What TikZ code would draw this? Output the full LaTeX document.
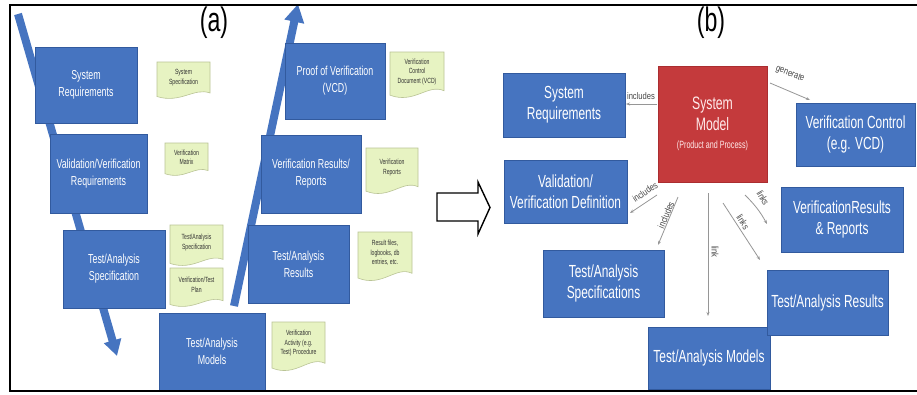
\documentclass[tikz,border=0pt]{standalone}
\usepackage{fontspec}
\setmainfont{Liberation Sans}
\newfontfamily\cond[FakeStretch=0.68]{Liberation Sans}
\newfontfamily\condlbl[FakeStretch=0.8]{Liberation Sans}
\usetikzlibrary{arrows.meta}

\definecolor{boxblue}{RGB}{70,116,192}
\definecolor{boxedge}{RGB}{50,90,158}
\definecolor{modelred}{RGB}{196,58,60}
\definecolor{modeledge}{RGB}{170,45,48}
\definecolor{notefill}{RGB}{231,243,194}
\definecolor{noteedge}{RGB}{186,196,150}
\definecolor{linkgray}{RGB}{150,150,150}
\definecolor{labelgray}{RGB}{70,70,70}

\tikzset{
  bluebox/.style={rectangle, fill=boxblue, draw=boxedge, line width=0.8pt,
    text=white, align=center, inner sep=0pt},
  smallbox/.style={bluebox, font=\cond\fontsize{13}{17}\selectfont},
  bigbox/.style={bluebox, font=\cond\fontsize{17.5}{21}\selectfont},
  modelbox/.style={rectangle, fill=modelred, draw=modeledge, line width=0.8pt,
    text=white!92!red, align=center, inner sep=0pt,
    font=\cond\fontsize{18}{21}\selectfont},
  notebg/.style={fill=notefill, draw=noteedge, line width=0.6pt},
  notetext/.style={align=center, inner sep=0pt, text=black!80,
    font=\cond\fontsize{7.5}{9.5}\selectfont},
  vstroke/.style={draw=boxblue, line width=8pt},
  linkline/.style={draw=linkgray, line width=0.8pt, -{Stealth[length=4pt,width=3pt]}},
  linklabel/.style={inner sep=0pt, text=labelgray, font=\condlbl\fontsize{9.5}{9.5}\selectfont},
  panellabel/.style={anchor=base, inner sep=0pt, font=\cond\fontsize{34}{34}\selectfont}
}

% sticky note with a wavy lower edge: name, centre x, centre y, width, height, text
\newcommand\docnote[6]{%
  \path[notebg] (#2-#4/2,#3-#5/2) -- ++(#4,0) -- ++(0,#5*0.86)
    .. controls +(-#4*0.3,-#5*0.16) and +(#4*0.45,#5*0.2) .. (#2-#4/2,#3+#5/2-#5*0.04) -- cycle;
  \node[notetext] (#1) at (#2,#3-#5*0.06) {#6};
}

\begin{document}
\begin{tikzpicture}[x=1pt,y=-1pt]
\useasboundingbox (0,0) rectangle (917,394);
\fill[white] (0,0) rectangle (917,394);

% ---------------- (a) V-model ----------------
\coordinate (vstart) at (18,14);
\coordinate (vend) at (117,356);
\coordinate (ustart) at (234,306);
\coordinate (uend) at (298,4);
\draw[vstroke, -{Triangle[width=17pt,length=16pt]}] (vstart) -- (vend);
\draw[vstroke, -{Triangle[width=19pt,length=18pt]}] (ustart) -- (uend);

\node[smallbox, minimum width=102pt, minimum height=76pt] (aSR)  at (86,85)      {System\\Requirements};
\node[smallbox, minimum width=97pt,  minimum height=79pt] (aVVR) at (98.5,173.5) {Validation/Verification\\Requirements};
\node[smallbox, minimum width=102pt, minimum height=78pt] (aTAS) at (114,269)    {Test/Analysis\\Specification};
\node[smallbox, minimum width=106pt, minimum height=77pt] (aTAM) at (212,351.5)  {Test/Analysis\\Models};
\node[smallbox, minimum width=101pt, minimum height=78pt] (aTAR) at (298.5,264)  {Test/Analysis\\Results};
\node[smallbox, minimum width=100pt, minimum height=78pt] (aVRR) at (311,174)    {Verification Results/\\Reports};
\node[smallbox, minimum width=100pt, minimum height=76pt] (aPOV) at (335,81)     {Proof of Verification\\(VCD)};

\docnote{nSS}{183.5}{80}{53}{36}{System\\Specification}
\docnote{nVM}{186.5}{159}{43}{32}{Verification\\Matrix}
\docnote{nTAS}{196.5}{245}{53}{40}{Test/Analysis\\Specification}
\docnote{nVTP}{196.5}{287}{53}{38}{Verification/Test\\Plan}
\docnote{nVAP}{298.5}{346}{53}{48}{Verification\\Activity (e.g.\\Test) Procedure}
\docnote{nRF}{385}{256}{54}{48}{Result files,\\logbooks, db\\entries, etc.}
\docnote{nVR}{392}{170.5}{52}{45}{Verification\\Reports}
\docnote{nVCD}{417}{74.5}{54}{45}{Verification\\Control\\Document (VCD)}

\node[panellabel] (la) at (214,31) {(a)};

% ---------------- transition arrow ----------------
\draw[fill=white, draw=black, line width=1.4pt, line join=miter]
  (437,193) -- (478,193) -- (478,182) -- (490,207.5) -- (478,234) -- (478,221) -- (437,221) -- cycle;

% ---------------- (b) model-based view ----------------
\node[panellabel] (lb) at (711,31) {(b)};

\node[modelbox, minimum width=109pt, minimum height=116pt] (bSM) at (712.5,124)
  {System\\Model\\[-3pt]{\fontsize{10.5}{13}\selectfont (Product and Process)}};

\node[bigbox, minimum width=122pt, minimum height=64pt] (bSR)  at (564,105)     {System\\Requirements};
\node[bigbox, minimum width=123pt, minimum height=63pt] (bVVD) at (565.5,191.5) {Validation/\\Verification Definition};
\node[bigbox, minimum width=121pt, minimum height=67pt] (bTAS) at (603.5,283.5) {Test/Analysis\\Specifications};
\node[bigbox, minimum width=122pt, minimum height=62pt] (bTAM) at (709,358)     {Test/Analysis Models};
\node[bigbox, minimum width=121pt, minimum height=65pt] (bTAR) at (827.5,302.5) {Test/Analysis Results};
\node[bigbox, minimum width=122pt, minimum height=65pt] (bVRR) at (842,219.5)   {VerificationResults\\\& Reports};
\node[bigbox, minimum width=119pt, minimum height=63pt] (bVC)  at (855.5,134.5) {Verification Control\\(e.g. VCD)};

% relation lines around the system model
\coordinate (i1s) at (657,104);  \coordinate (i1e) at (626,104);
\coordinate (i2s) at (657,195);  \coordinate (i2e) at (630,213);
\coordinate (i3s) at (678,197);  \coordinate (i3e) at (658,245);
\coordinate (l0s) at (708,193);  \coordinate (l0e) at (708,316);
\coordinate (l1s) at (723,203);  \coordinate (l1e) at (760,260);
\coordinate (l2s) at (745,195);  \coordinate (l2e) at (767,224);
\coordinate (g1s) at (770,83);   \coordinate (g1e) at (810,100);

\draw[linkline] (i1s) -- (i1e);
\draw[linkline] (i2s) -- (i2e);
\draw[linkline] (i3s) -- (i3e);
\draw[linkline] (l0s) -- (l0e);
\draw[linkline] (l1s) -- (l1e);
\draw[linkline] (l2s) to[bend left=8] (l2e);
\draw[linkline] (g1s) -- (g1e);

\node[linklabel] (t1) at (641,96)  {includes};
\node[linklabel, rotate=34] (t2) at (645,192) {includes};
\node[linklabel, rotate=67] (t3) at (666,215) {includes};
\node[linklabel, rotate=-90] (t4) at (715,252) {link};
\node[linklabel, rotate=-57] (t5) at (743,222) {links};
\node[linklabel, rotate=-60] (t6) at (763,198) {links};
\node[linklabel, rotate=-22] (t7) at (790,74)  {generate};

% ---------------- frame ----------------
\draw[black, line width=2pt, line cap=rect] (917,5) -- (10,5) -- (10,391) -- (917,391);
\end{tikzpicture}
\end{document}
